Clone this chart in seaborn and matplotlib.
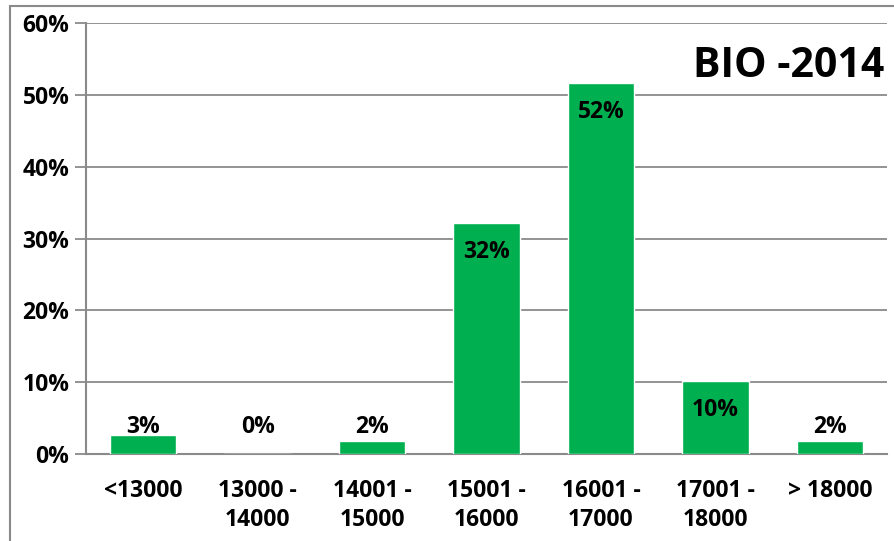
import matplotlib
matplotlib.use('Agg')
import matplotlib.pyplot as plt
import seaborn as sns
import pandas as pd
from matplotlib.lines import Line2D
from matplotlib.ticker import FuncFormatter

# chart data
categories = ['<13000', '13000 -\n14000', '14001 -\n15000', '15001 -\n16000',
              '16001 -\n17000', '17001 -\n18000', '> 18000']
shares = [0.026, 0.0, 0.018, 0.322, 0.517, 0.102, 0.018]
bar_labels = ['3%', '0%', '2%', '32%', '52%', '10%', '2%']
inside = [False, False, False, True, True, True, False]
y_ticks = [0, 0.1, 0.2, 0.3, 0.4, 0.5, 0.6]

df = pd.DataFrame({'range': categories, 'share': shares})

sns.set_style('white')
plt.rcParams['font.family'] = ['Open Sans', 'DejaVu Sans']
plt.rcParams['font.weight'] = 'bold'
plt.rcParams['text.color'] = 'black'
plt.rcParams['xtick.color'] = 'black'
plt.rcParams['ytick.color'] = 'black'

grey = '#8a8a8a'
fs = 16.5
fig = plt.figure(figsize=(8.95, 5.41), dpi=100)
ax = fig.add_axes([86 / 895, 1 - 454 / 541, (887 - 86) / 895, (454 - 23) / 541])

sns.barplot(data=df, x='range', y='share', color='#00B050', width=0.58,
            saturation=1, ax=ax, zorder=3)

ax.set_ylim(0, 0.6)
ax.set_xlim(-0.5, len(categories) - 0.5)
ax.set_yticks(y_ticks)
ax.yaxis.set_major_formatter(FuncFormatter(lambda v, p: f'{v * 100:.0f}%'))
ax.grid(axis='y', color=grey, linewidth=1.3, zorder=0)
ax.set_xlabel('')
ax.set_ylabel('')

for s in ['top', 'right']:
    ax.spines[s].set_visible(False)
for s in ['left', 'bottom']:
    ax.spines[s].set_color(grey)
    ax.spines[s].set_linewidth(1.5)

# category boundary ticks on x, outward ticks on y
ax.set_xticks([i - 0.5 for i in range(len(categories) + 1)], minor=True)
ax.tick_params(axis='x', which='major', length=0, pad=18, labelsize=fs, labelcolor='black')
ax.tick_params(axis='x', which='minor', length=8, width=1.5, color=grey, direction='out')
ax.tick_params(axis='y', length=8, width=1.3, color=grey, direction='out', labelsize=fs, pad=4,
               left=True, labelcolor='black')
for lab in ax.get_xticklabels() + ax.get_yticklabels():
    lab.set_fontweight('bold')
    lab.set_linespacing(1.3)

# small-value labels sit on a common baseline just above the short bars
small_label_base = 0.029
for i, (v, txt, ins) in enumerate(zip(shares, bar_labels, inside)):
    if ins:
        ax.annotate(txt, (i, v), xytext=(0, -21), textcoords='offset points',
                    ha='center', va='center', fontsize=fs, fontweight='bold', zorder=5)
    else:
        ax.text(i, small_label_base, txt, ha='center', va='baseline',
                fontsize=fs, fontweight='bold', zorder=5)

ax.text(0.997, 0.9, 'BIO -2014', transform=ax.transAxes, ha='right', va='center',
        fontsize=29.5, fontweight='bold')

# outer chart border (left and top edges visible)
fig.add_artist(Line2D([10 / 895, 10 / 895], [0, 1 - 6 / 541], transform=fig.transFigure,
                      color=grey, linewidth=1.5))
fig.add_artist(Line2D([10 / 895, 1], [1 - 6 / 541, 1 - 6 / 541], transform=fig.transFigure,
                      color=grey, linewidth=1.5))

fig.savefig('out.png', dpi=100)
